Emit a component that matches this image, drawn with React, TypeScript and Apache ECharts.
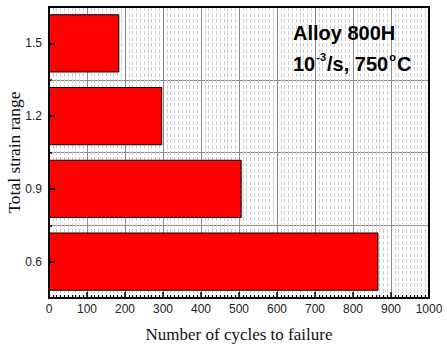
import React, { useEffect, useRef } from "react";
import * as echarts from "echarts";

const categories = ["0.6", "0.9", "1.2", "1.5"];
const cycles = [867, 507, 298, 185];
const xTicks = { min: 0, max: 1000, interval: 100 };

export default function App() {
  const ref = useRef<HTMLDivElement>(null);
  useEffect(() => {
    if (!ref.current) return;
    const chart = echarts.init(ref.current, null, { renderer: "svg" });
    chart.setOption({
      animation: false,
      backgroundColor: "#ffffff",
      grid: {
        left: 49,
        right: 18,
        top: 7,
        bottom: 52,
        containLabel: false,
        outerBoundsMode: "none",
        show: true,
        borderColor: "#000",
        borderWidth: 2,
        backgroundColor: "transparent",
        z: 10,
      },
      xAxis: {
        type: "value",
        min: xTicks.min,
        max: xTicks.max,
        interval: xTicks.interval,
        name: "Number of cycles to failure",
        nameLocation: "middle",
        nameGap: 28,
        nameMoveOverlap: false,
        nameTextStyle: { fontFamily: "Liberation Serif", fontSize: 17, color: "#111" },
        axisLine: { show: true, lineStyle: { color: "#000", width: 2 } },
        axisTick: { show: true, inside: true, length: 6, lineStyle: { color: "#000", width: 1.5 } },
        minorTick: { show: true, splitNumber: 10, length: 3, lineStyle: { color: "#000", width: 1.2 } },
        axisLabel: {
          fontFamily: "Liberation Sans",
          fontSize: 12,
          color: "#222",
          margin: 5,
          formatter: (v: number) => String(v),
        },
        splitLine: { show: true, lineStyle: { color: "#8c8c8c", width: 1 } },
        minorSplitLine: { show: true, lineStyle: { color: "#cfcfcf", width: 1, type: [4, 2] } },
      },
      yAxis: [
        {
          type: "category",
          data: categories,
          name: "Total strain range",
          nameLocation: "middle",
          nameGap: 26,
          nameMoveOverlap: false,
          nameTextStyle: { fontFamily: "Liberation Serif", fontSize: 17.5, color: "#111" },
          axisLine: { show: true, lineStyle: { color: "#000", width: 2 } },
          axisTick: { show: true, inside: true, length: 3, lineStyle: { color: "#000", width: 1.5 } },
          axisLabel: { fontFamily: "Liberation Sans", fontSize: 12, color: "#222", margin: 7 },
          splitLine: { show: true, lineStyle: { color: "#8c8c8c", width: 1 } },
        },
        {
          type: "category",
          data: categories,
          position: "left",
          offset: 0,
          axisLine: { show: false },
          axisTick: { show: true, inside: true, alignWithLabel: true, length: 6, lineStyle: { color: "#000", width: 2 } },
          axisLabel: { show: false },
          splitLine: { show: false },
          z: 20,
        },
      ],
      series: [
        {
          type: "bar",
          data: cycles,
          yAxisIndex: 0,
          barCategoryGap: "20%",
          itemStyle: { color: "#ff0000", borderColor: "#000", borderWidth: 1 },
          z: 3,
        },
      ],
      graphic: [
        {
          type: "text",
          left: 293,
          top: 23,
          z: 100,
          style: {
            text: "Alloy 800H",
            font: "bold 20px 'Liberation Sans'",
            fill: "#000",
          },
        },
        {
          type: "text",
          left: 293,
          top: 51,
          z: 100,
          style: {
            text: "{a|10}{s|-3}{a|/s, 750}{s|o}{a|C}",
            fill: "#000",
            rich: {
              a: { fontFamily: "Liberation Sans", fontWeight: "bold", fontSize: 20, lineHeight: 23, verticalAlign: "bottom" },
              s: { fontFamily: "Liberation Sans", fontWeight: "bold", fontSize: 11, lineHeight: 23, verticalAlign: "top", padding: [0, 1, 0, 1] },
            },
          },
        },
      ],
    });
    return () => chart.dispose();
  }, []);
  return (
    <div style={{ position: "fixed", left: 0, top: 0, width: 447, height: 350 }}>
      <div ref={ref} style={{ width: 447, height: 350 }} />
    </div>
  );
}
